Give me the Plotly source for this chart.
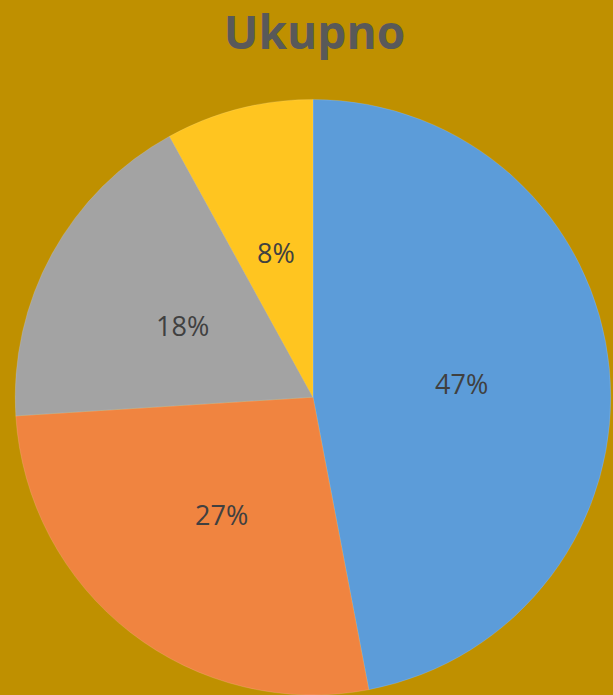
import math
import plotly.graph_objects as go

categories = ["Plava", "Narančasta", "Siva", "Žuta"]
values = [47, 27, 18, 8]
colors = ["#5C9CD9", "#F08440", "#A3A3A3", "#FFC520"]
title_text = "Ukupno"

W, H = 613, 695
dom_x = [0.0245, 0.9967]
dom_y = [0.0, 0.857]

fig = go.Figure(go.Pie(
    labels=categories,
    values=values,
    sort=False,
    direction="clockwise",
    rotation=0,
    marker=dict(colors=colors, line=dict(color="rgba(255,255,255,0.25)", width=0.5)),
    textinfo="none",
    domain=dict(x=dom_x, y=dom_y),
    showlegend=False,
    hoverinfo="label+percent",
))

# percentage labels at half radius along each slice's mid-angle
cx = (dom_x[0] + dom_x[1]) / 2 * W
cy = (dom_y[0] + dom_y[1]) / 2 * H
r = min((dom_x[1] - dom_x[0]) * W, (dom_y[1] - dom_y[0]) * H) / 2
total = sum(values)
cum = 0
for v in values:
    mid = (cum + v / 2) / total * 2 * math.pi
    cum += v
    px = cx + 0.5 * r * math.sin(mid)
    py = cy + 0.5 * r * math.cos(mid)
    fig.add_annotation(
        x=px / W, y=py / H, xref="paper", yref="paper",
        text=f"{round(v / total * 100)}%", showarrow=False,
        xanchor="center", yanchor="middle",
        font=dict(family="Open Sans, Liberation Sans, sans-serif", size=27, color="#404040"),
    )

fig.update_layout(
    width=W, height=H,
    paper_bgcolor="#BF9000",
    plot_bgcolor="#BF9000",
    margin=dict(l=0, r=0, t=0, b=0),
    title=dict(
        text="<b>" + title_text + "</b>",
        x=0.513, xanchor="center",
        y=0.952, yanchor="middle",
        font=dict(family="Open Sans, Liberation Sans, sans-serif", size=46, color="#595959"),
    ),
)

fig.write_html(
    "out.html",
    config={"displayModeBar": False},
    post_script="document.body.style.margin='0';document.body.style.background='#BF9000';",
)
